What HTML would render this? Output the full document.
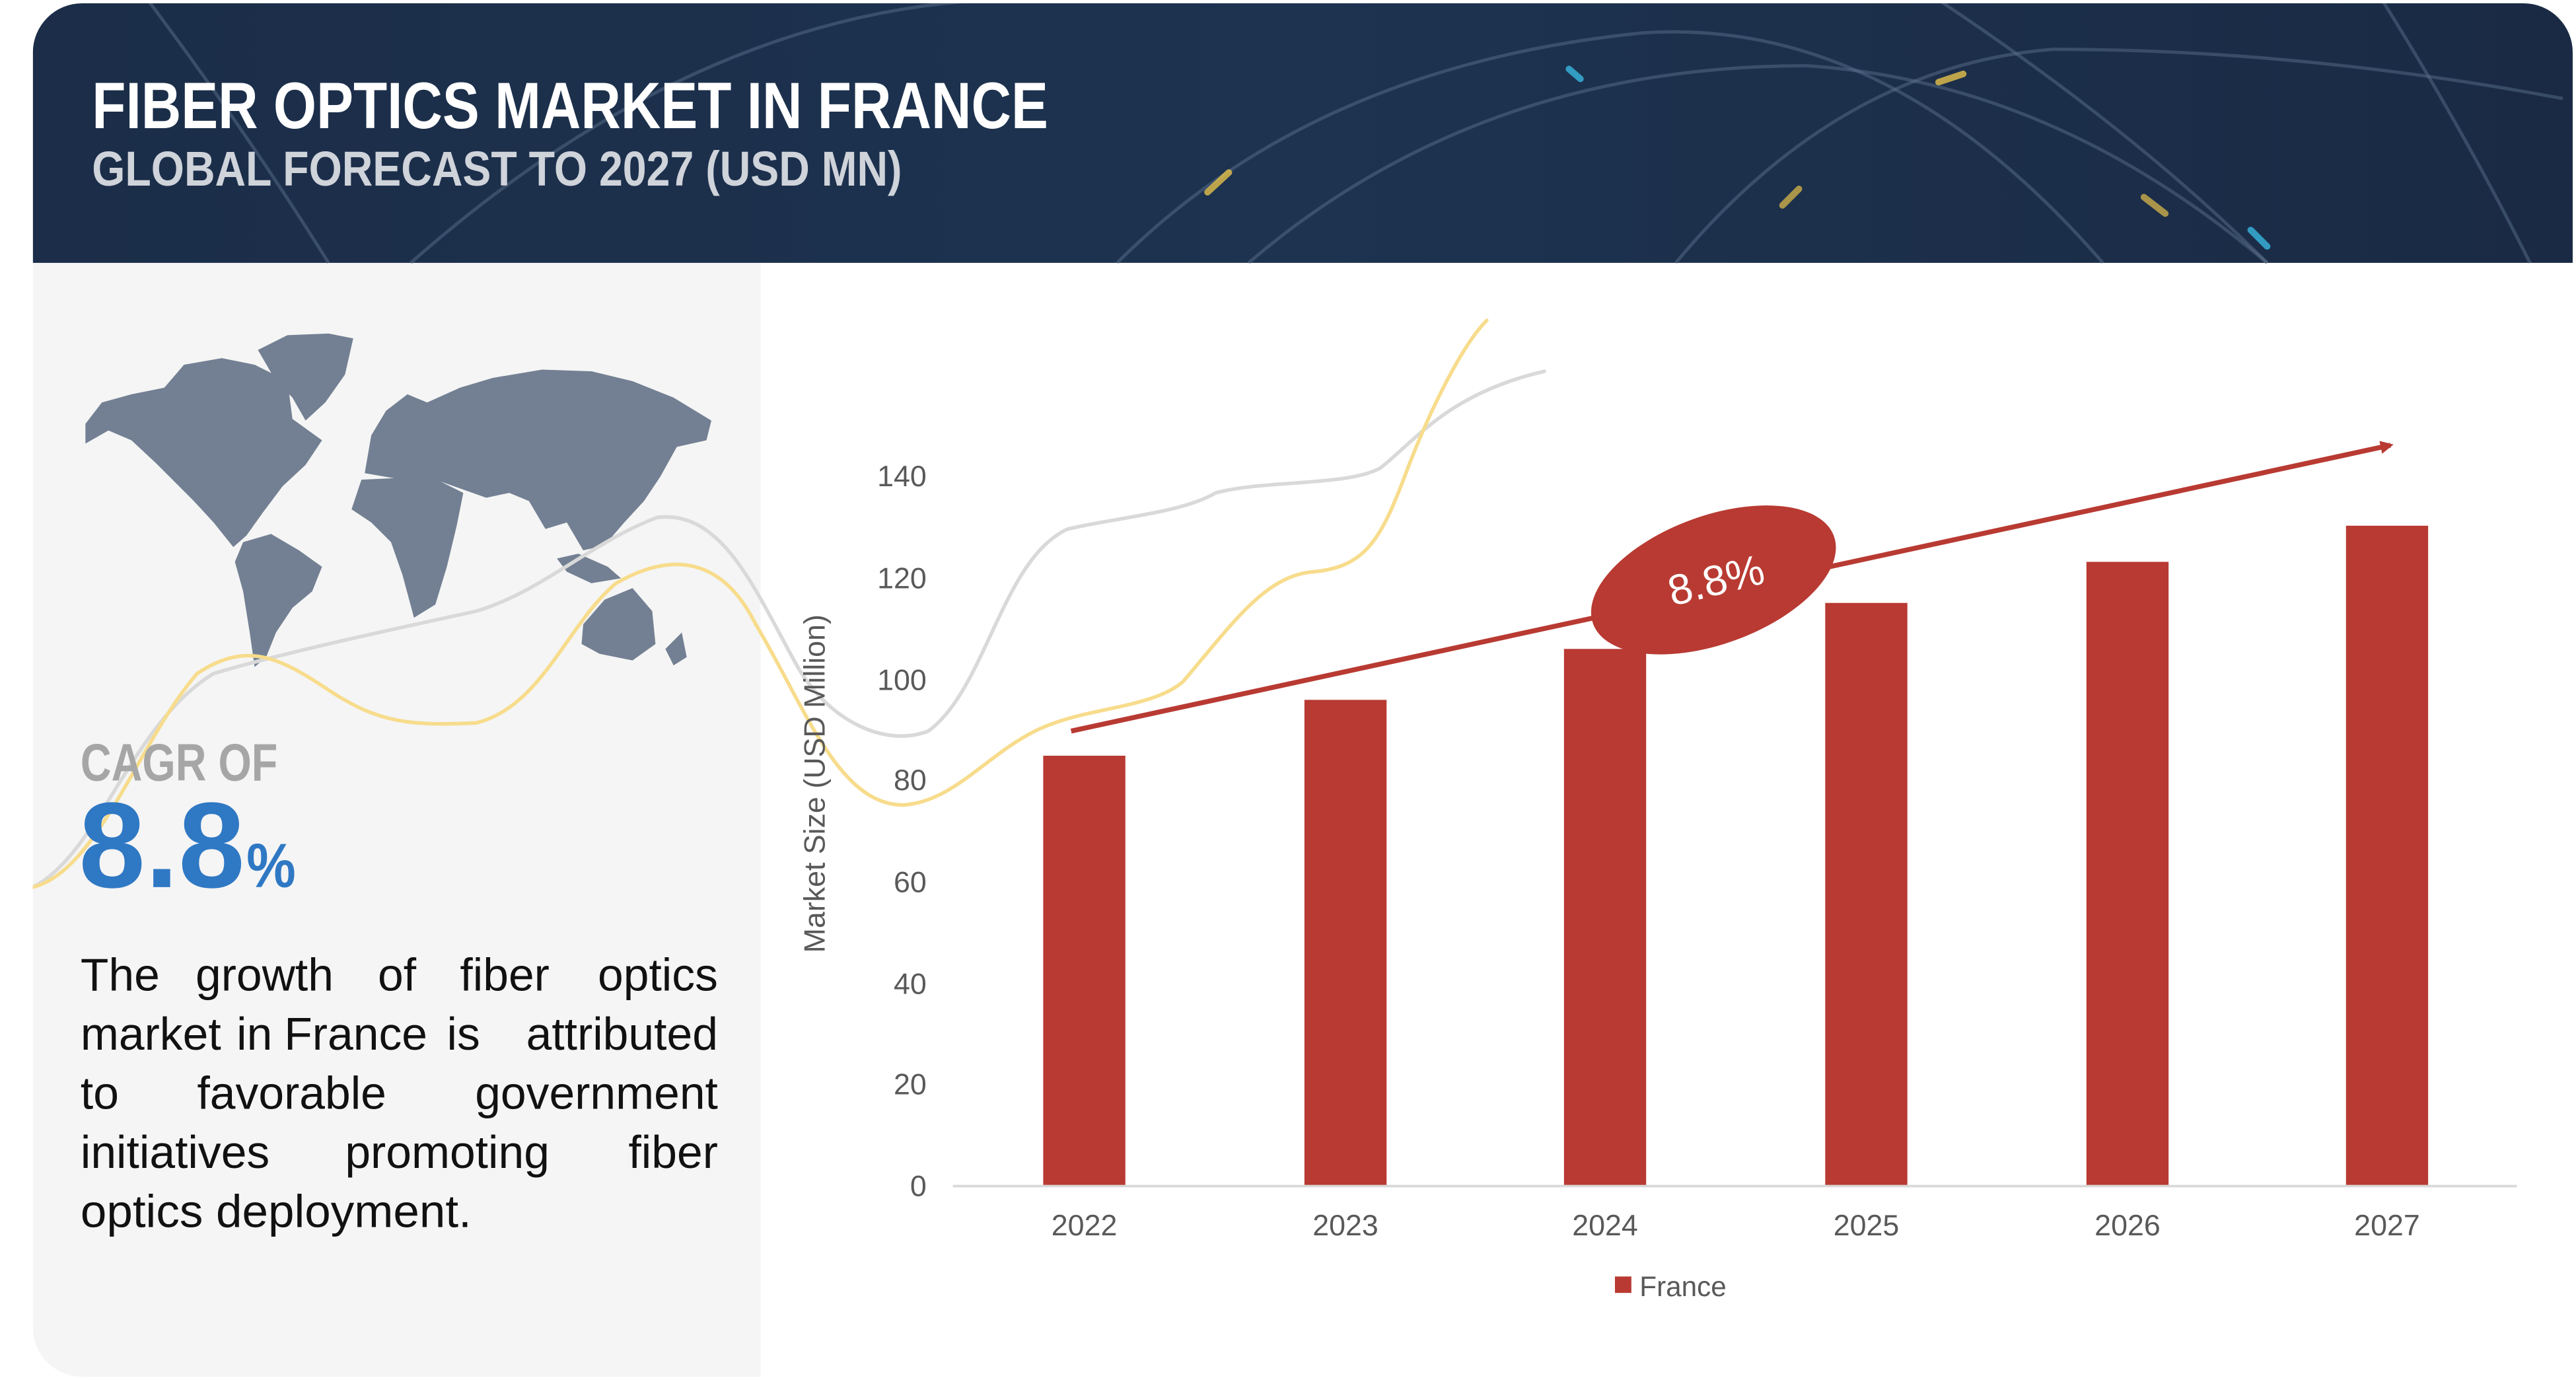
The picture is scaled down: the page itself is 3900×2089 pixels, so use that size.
<!DOCTYPE html>
<html><head><meta charset="utf-8"><style>
html,body{margin:0;padding:0;background:#fff;width:3900px;height:2089px;overflow:hidden}
svg{display:block}
text{font-family:"Liberation Sans",sans-serif}
</style></head><body>
<svg width="3900" height="2089" viewBox="0 0 1568 840" preserveAspectRatio="none" xmlns="http://www.w3.org/2000/svg">
<defs>
<linearGradient id="hg" x1="0" y1="0" x2="1" y2="0">
<stop offset="0" stop-color="#1b2d48"/><stop offset="0.5" stop-color="#1d3350"/><stop offset="1" stop-color="#1a2a44"/>
</linearGradient>
<clipPath id="card"><rect x="20" y="2" width="1546" height="836" rx="30"/></clipPath>
<marker id="ah" markerWidth="8" markerHeight="8" refX="6" refY="4" orient="auto" markerUnits="userSpaceOnUse"><path d="M0,0 L8,4 L0,8 z" fill="#b83a32"/></marker>
</defs>
<rect width="1568" height="840" fill="#fff"/>
<g clip-path="url(#card)">
<rect x="20" y="2" width="1546" height="836" fill="#ffffff"/>
<rect x="20" y="160" width="443" height="680" fill="#f5f5f5"/>
<rect x="20" y="2" width="1546" height="158" fill="url(#hg)"/>
<g fill="none" stroke="#5f7590" stroke-opacity="0.45" stroke-width="2">
<path d="M90,0 Q150,80 200,160"/>
<path d="M250,160 Q420,10 600,0"/>
<path d="M680,160 Q800,40 1000,20 Q1150,10 1280,160"/>
<path d="M760,160 Q900,40 1100,40 Q1250,50 1380,160"/>
<path d="M1020,160 Q1120,40 1250,30 Q1400,30 1560,60"/>
<path d="M1180,0 Q1300,80 1380,160"/>
<path d="M1450,0 Q1500,80 1540,160"/>
</g>
<g fill="none" stroke-width="4" stroke-linecap="round">
<path d="M735,117 L748,105" stroke="#e6c04a" stroke-opacity="0.8"/>
<path d="M1180,50 L1195,45" stroke="#e6c04a" stroke-opacity="0.8"/>
<path d="M1305,120 L1318,130" stroke="#e6c04a" stroke-opacity="0.7"/>
<path d="M1370,140 L1380,150" stroke="#3ab8e0" stroke-opacity="0.8"/>
<path d="M955,42 L962,48" stroke="#3ab8e0" stroke-opacity="0.8"/>
<path d="M1085,125 L1095,115" stroke="#e6c04a" stroke-opacity="0.7"/>
</g>
<text x="56" y="78" font-size="40" font-weight="bold" fill="#ffffff" textLength="582" lengthAdjust="spacingAndGlyphs">FIBER OPTICS MARKET IN FRANCE</text>
<text x="56" y="113" font-size="30" font-weight="bold" fill="#cfd3da" textLength="493" lengthAdjust="spacingAndGlyphs">GLOBAL FORECAST TO 2027 (USD MN)</text>

<g fill="#738093">
<path d="M52,258 L62,245 L80,240 L100,236 L112,222 L135,218 L155,222 L175,232 L178,255 L196,268 L186,283 L172,296 L160,312 L150,326 L142,333 L130,318 L118,305 L106,293 L95,282 L80,268 L66,262 L52,270 z"/>
<path d="M157,213 L175,204 L200,203 L215,206 L210,228 L198,245 L186,256 L178,242 L168,232 z"/>
<path d="M148,330 L165,325 L182,335 L196,345 L190,360 L178,370 L168,385 L162,400 L155,406 L152,385 L148,360 L143,342 z"/>
<path d="M222,288 L226,265 L235,250 L248,240 L260,245 L280,236 L300,230 L330,225 L360,226 L385,232 L410,242 L433,256 L430,268 L412,272 L402,290 L392,305 L380,318 L368,332 L355,335 L345,318 L332,322 L322,305 L310,300 L296,303 L282,298 L265,292 L245,292 z"/>
<path d="M220,292 L262,290 L282,300 L278,320 L272,345 L265,368 L252,376 L245,350 L238,330 L226,318 L214,310 z"/>
<path d="M355,380 L368,365 L385,358 L397,372 L399,392 L385,402 L365,398 L354,392 z"/>
<path d="M405,395 L415,385 L418,400 L410,405 z"/>
<path d="M339,340 L352,337 L370,345 L378,352 L360,355 L345,348 z"/>
</g>

<g fill="none" stroke-width="2.2" stroke-linecap="round" stroke-linejoin="round">
<path d="M20,540 C60,520 80,440 130,410 C170,398 230,385 290,372 C330,360 360,330 400,315 C440,310 460,360 485,405 C505,440 540,455 565,445 C600,420 610,340 650,322 C680,315 720,312 740,300 C770,292 820,296 840,285 C860,270 880,240 940,226" stroke="#d9d9d9"/>
<path d="M20,540 C60,530 85,450 120,410 C150,390 170,400 200,420 C230,440 250,442 290,440 C330,430 345,380 375,355 C410,335 440,340 460,380 C490,430 510,490 550,490 C580,488 600,460 630,445 C660,430 700,432 720,415 C750,380 770,350 800,348 C830,345 840,330 855,290 C870,250 890,210 905,195" stroke="#f7dc8c"/>
</g>

<text x="49" y="475" font-size="32" font-weight="bold" fill="#a6a6a6" textLength="120" lengthAdjust="spacingAndGlyphs">CAGR OF</text>
<text x="48" y="540" font-size="74" font-weight="bold" fill="#2f78c4" textLength="101" lengthAdjust="spacingAndGlyphs">8.8</text>
<text x="150" y="540" font-size="38" font-weight="bold" fill="#2f78c4" textLength="30" lengthAdjust="spacingAndGlyphs">%</text>
<g font-size="28" fill="#111">
<text x="49" y="603">The</text><text x="119" y="603">growth</text><text x="230" y="603">of</text><text x="280" y="603">fiber</text><text x="437" y="603" text-anchor="end">optics</text>
<text x="49" y="639">market</text><text x="144" y="639">in</text><text x="173" y="639">France</text><text x="272" y="639">is</text><text x="437" y="639" text-anchor="end">attributed</text>
<text x="49" y="675">to</text><text x="120" y="675">favorable</text><text x="437" y="675" text-anchor="end">government</text>
<text x="49" y="711">initiatives</text><text x="210" y="711">promoting</text><text x="437" y="711" text-anchor="end">fiber</text>
<text x="49" y="747" textLength="238" lengthAdjust="spacingAndGlyphs">optics deployment.</text>
</g>

<g font-size="18" fill="#595959" text-anchor="end">
<text x="564" y="728">0</text>
<text x="564" y="666">20</text>
<text x="564" y="605">40</text>
<text x="564" y="543">60</text>
<text x="564" y="481">80</text>
<text x="564" y="420">100</text>
<text x="564" y="358">120</text>
<text x="564" y="296">140</text>
</g>
<text transform="translate(502,477) rotate(-90)" font-size="18" fill="#595959" text-anchor="middle">Market Size (USD Million)</text>
<g fill="#b83a32">
<rect x="635" y="460" width="50" height="262"/>
<rect x="794" y="426" width="50" height="296"/>
<rect x="952" y="395" width="50" height="327"/>
<rect x="1111" y="367" width="50" height="355"/>
<rect x="1270" y="342" width="50" height="380"/>
<rect x="1428" y="320" width="50" height="402"/>
</g>
<line x1="580" y1="722" x2="1532" y2="722" stroke="#d9d9d9" stroke-width="1.5"/>
<g font-size="18" fill="#595959" text-anchor="middle">
<text x="660" y="752">2022</text>
<text x="819" y="752">2023</text>
<text x="977" y="752">2024</text>
<text x="1136" y="752">2025</text>
<text x="1295" y="752">2026</text>
<text x="1453" y="752">2027</text>
</g>
<rect x="983" y="777" width="10" height="10" fill="#b83a32"/>
<text x="998" y="789" font-size="17" fill="#595959">France</text>
<line x1="652" y1="445" x2="1455" y2="271" stroke="#b83a32" stroke-width="3" marker-end="url(#ah)"/>
<ellipse cx="1043" cy="353" rx="78" ry="39" transform="rotate(-20 1043 353)" fill="#b83a32"/>
<text x="1045" y="362" font-size="26" fill="#ffffff" text-anchor="middle" transform="rotate(-14 1045 355)">8.8%</text>
</g>
</svg>
</body></html>
